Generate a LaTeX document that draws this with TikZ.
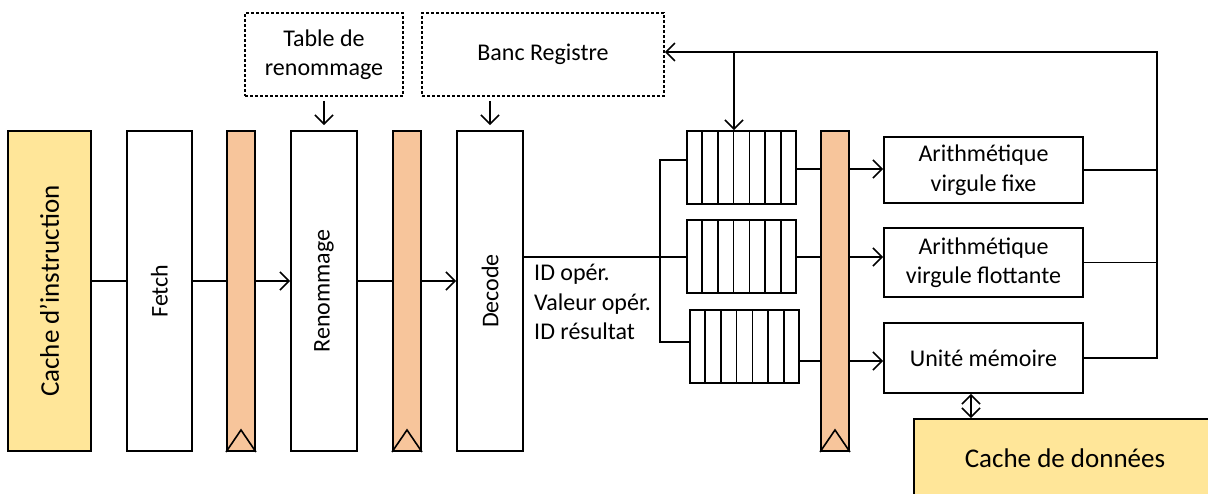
\documentclass[tikz,border=0pt]{standalone}
\usepackage{fontspec}
\setmainfont{Carlito}
\usetikzlibrary{arrows.meta,calc}
\definecolor{cyel}{HTML}{FFE699}
\definecolor{corg}{HTML}{F7C59B}
\newcommand\fsn{\fontsize{24}{29.5}\selectfont}
\newcommand\fsl{\fontsize{27}{32}\selectfont}
\begin{document}
\begin{tikzpicture}[x=1pt,y=-1pt,
  box/.style={draw, line width=1.9pt, rectangle, inner sep=0pt, font=\fsn, align=center},
  latch/.style={box, fill=corg, minimum width=28pt, minimum height=320pt},
  dbox/.style={draw, line width=1.5pt, dash pattern=on 3pt off 2pt, rectangle, inner sep=0pt, font=\fsn, align=center},
  conn/.style={line width=1.6pt},
  arr/.style={-{Straight Barb[length=9pt,width=18pt]}},
  darr/.style={{Straight Barb[length=9pt,width=18pt]}-{Straight Barb[length=9pt,width=18pt]}}
]
\useasboundingbox (0,0) rectangle (1208,493);
\clip (0,0) rectangle (1208,493);

% stages
\node[box, fill=cyel, minimum width=83pt, minimum height=320pt, font=\fsl] (cachei) at (49.5,291) {\rotatebox{90}{Cache d’instruction}};
\node[box, minimum width=65pt, minimum height=320pt] (fetch) at (159.5,291) {\rotatebox{90}{Fetch}};
\node[latch] (latch1) at (241,291) {};
\node[box, minimum width=66pt, minimum height=320pt] (ren) at (324,291) {\rotatebox{90}{Renommage}};
\node[latch] (latch2) at (407,291) {};
\node[box, minimum width=66pt, minimum height=320pt] (dec) at (490,291) {\rotatebox{90}{Decode}};

\node[dbox, minimum width=158pt, minimum height=83pt] (table) at (324,54.5) {Table de\\renommage};
\node[dbox, minimum width=242pt, minimum height=83pt] (banc) at (543,54.5) {Banc Registre};

% queues
\node[box, minimum width=109pt, minimum height=73pt] (q1) at (741.5,167.5) {};
\node[box, minimum width=109pt, minimum height=73pt] (q2) at (741.5,256.5) {};
\node[box, minimum width=109pt, minimum height=73pt] (q3) at (744.5,346.5) {};
\foreach \q in {q1,q2,q3}
  \foreach \i in {1,...,6}
    \draw[line width=1.6pt] ($(\q.north west)!\i/7!(\q.north east)$) -- ($(\q.south west)!\i/7!(\q.south east)$);

\node[latch] (latch3) at (835,291) {};

% units
\node[box, minimum width=199pt, minimum height=66pt] (af) at (983.5,170) {Arithmétique\\virgule fixe};
\node[box, minimum width=199pt, minimum height=69pt] (afl) at (983.5,262.5) {Arithmétique\\virgule flottante};
\node[box, minimum width=199pt, minimum height=70pt] (um) at (983.5,358) {Unité mémoire};
\node[box, fill=cyel, minimum width=302pt, minimum height=78pt, font=\fsl] (cd) at (1065,458) {Cache de données};

% latch triangles
\foreach \l in {latch1,latch2,latch3}
  \draw[line width=1.6pt] (\l.south west) -- ($(\l.south)+(0pt,22pt)$) -- (\l.south east);

% label
\node[anchor=west, align=left, font=\fsn, inner sep=3pt] (lab) at (531,302) {ID opér.\\Valeur opér.\\ID résultat};

% coordinates
\coordinate (ym) at (0,281);
\coordinate (br) at (660,257);
\coordinate (y160) at (0,160);
\coordinate (y342) at (0,342);
\coordinate (y169) at (0,169);
\coordinate (y257) at (0,257);
\coordinate (y361) at (0,361);
\coordinate (fbR) at (1157,52);
\coordinate (fbq) at (734,52);
\coordinate (xm) at (971,0);

% main pipeline
\draw[conn] (cachei.east |- ym) -- (fetch.west |- ym);
\draw[conn] (fetch.east |- ym) -- (latch1.west |- ym);
\draw[conn,arr] (latch1.east |- ym) -- (ren.west |- ym);
\draw[conn] (ren.east |- ym) -- (latch2.west |- ym);
\draw[conn,arr] (latch2.east |- ym) -- (dec.west |- ym);

% side inputs
\draw[conn,arr,shorten <=4pt,shorten >=5pt] (table.south) -- (ren.north);
\draw[conn,arr,shorten <=4pt,shorten >=5pt] (dec.north |- banc.south) -- (dec.north);

% decode to queues
\draw[conn] (dec.east |- br) -- (q2.west |- br);
\draw[conn] (q1.west |- y160) -| (br |- y342) -- (q3.west |- y342);

% queues to latch3
\draw[conn] (q1.east |- y169) -- (latch3.west |- y169);
\draw[conn] (q2.east |- y257) -- (latch3.west |- y257);
\draw[conn] (q3.east |- y361) -- (latch3.west |- y361);

% latch3 to units
\draw[conn,arr] (latch3.east |- y169) -- (af.west |- y169);
\draw[conn,arr] (latch3.east |- y257) -- (afl.west |- y257);
\draw[conn,arr] (latch3.east |- y361) -- (um.west |- y361);

% feedback
\draw[conn] (af.east) -- (af.east -| fbR);
\draw[conn] (afl.east) -- (afl.east -| fbR);
\draw[conn,arr] (um.east) -| (fbR) -- (banc.east |- fbR);
\draw[conn,arr] (fbq) -- (fbq |- q1.north);

% memory
\draw[conn,darr] (um.south -| xm) -- (cd.north -| xm);
\end{tikzpicture}
\end{document}
